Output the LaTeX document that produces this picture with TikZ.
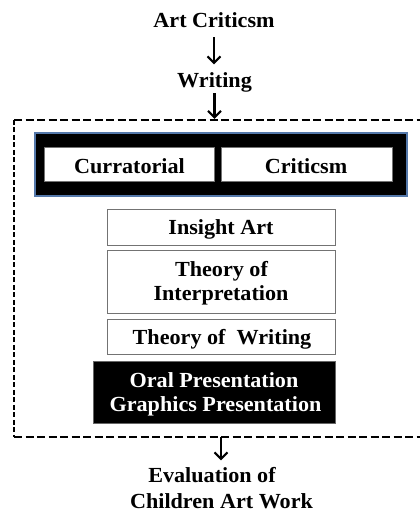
\documentclass[tikz,border=0pt]{standalone}
\usepackage{fontspec}
\setmainfont{Liberation Serif}[FakeStretch=1.03]
\usetikzlibrary{arrows.meta}
\definecolor{frameblue}{RGB}{84,120,170}
\begin{document}
\begin{tikzpicture}[x=1pt,y=-1pt,
  txt/.style={font=\bfseries\fontsize{21.5}{23}\selectfont, inner sep=0pt, anchor=base},
  wtxt/.style={txt, text=white},
  cell/.style={draw=black!55, line width=0.8pt, fill=white, inner sep=0pt},
  blk/.style={fill=black, inner sep=0pt},
  arr/.style={line width=2.1pt, -{Straight Barb[length=6.5pt,width=13pt]}},
  hdash/.style={line width=2.4pt, dash pattern=on 8pt off 3.5pt},
  vdash/.style={line width=2.4pt, dash pattern=on 5pt off 2.5pt}]
\useasboundingbox (0,0) rectangle (420,512);
\clip (0,0) rectangle (420,512);

% dashed frame (runs off the right edge)
\node[minimum width=425.7pt, minimum height=317pt, inner sep=0pt] (frame) at (227.15,278.5) {};
\draw[hdash] (frame.north west) -- (frame.north east);
\draw[vdash] (frame.north west) -- (frame.south west);
\draw[hdash] (frame.south west) -- (frame.south east);

% top black box with two cells
\node[blk, draw=frameblue, line width=1.2pt, minimum width=372pt, minimum height=63pt] (topbox) at (221,164.5) {};
\node[cell, minimum width=170pt, minimum height=34pt] (cur) at (129,164) {};
\node[cell, minimum width=171pt, minimum height=34pt] (crit) at (306.5,164) {};
\node[txt] (curT) at (129.5,173) {Curratorial};
\node[txt] (critT) at (306,173) {Criticsm};

% stacked boxes
\node[cell, minimum width=228pt, minimum height=36pt] (ins) at (221,227) {};
\node[txt] (insT) at (221,234) {Insight Art};

\node[cell, minimum width=228pt, minimum height=63pt] (interp) at (221,281.5) {};
\node[txt] (interpT1) at (221.5,276) {Theory of};
\node[txt] (interpT2) at (221,300) {Interpretation};

\node[cell, minimum width=228pt, minimum height=35pt] (wri) at (221,336.5) {};
\node[txt] (wriT) at (222,344) {Theory of\ \ Writing};

\node[blk, draw=black!60, line width=0.8pt, minimum width=242pt, minimum height=62pt] (oral) at (214,392) {};
\node[wtxt] (oralT1) at (214,387) {Oral Presentation};
\node[wtxt] (oralT2) at (215.5,411) {Graphics Presentation};

% outside texts
\node[txt] (art) at (214,27.3) {Art Criticsm};
\node[txt] (writing) at (214.5,87) {Writing};
\node[txt] (eval1) at (212,482.7) {Evaluation of};
\node[txt] (eval2) at (221.5,508) {Children Art Work};

% arrows
\draw[arr, shorten <=9.5pt, shorten >=7.5pt] (art.south) -- (art.south |- writing.north);
\draw[arr, shorten <=1.5pt, shorten >=1pt] (writing.south) -- (writing.south |- frame.north);
\coordinate (a3) at ([xshift=-6.15pt]frame.south);
\draw[arr, shorten >=7pt] (a3) -- (a3 |- eval1.north);
\end{tikzpicture}
\end{document}
